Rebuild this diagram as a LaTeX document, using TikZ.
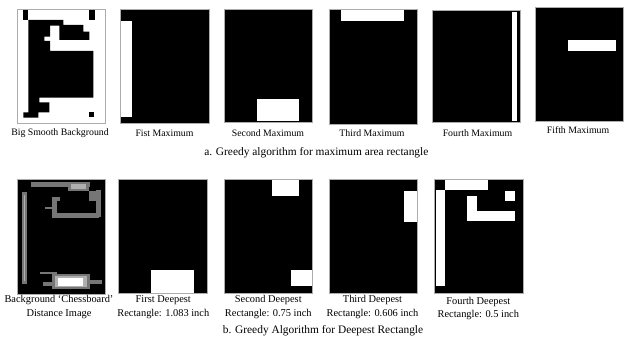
\documentclass[tikz,border=0pt]{standalone}
\usepackage{fontspec}
\setmainfont{Liberation Serif}
\begin{document}
\begin{tikzpicture}[x=1pt,y=-1pt,
  frame/.style={draw=gray!65, line width=0.8pt},
  blk/.style={fill=black},
  wht/.style={fill=white},
  gstrip/.style={fill={rgb,255:red,118;green,118;blue,118}},
  lstrip/.style={fill={rgb,255:red,175;green,175;blue,175}},
  lbl/.style={font=\fontsize{9.8}{11}\selectfont, inner sep=0pt},
  lbltwo/.style={font=\fontsize{10.4}{13.5}\selectfont, align=center, inner sep=0pt},
  captext/.style={font=\fontsize{11.4}{13}\selectfont, inner sep=0pt}]
\useasboundingbox (0,0) rectangle (624,339);

% ---------- Row a ----------
% Big Smooth Background
\fill[white] (17.3,9.7) rectangle (105.3,123);
\fill[blk] (23.3,9.7) rectangle (28.3,20);
\fill[blk] (89.3,9.7) rectangle (94.8,20);
\fill[blk] (28.3,20) -- (63.3,20) -- (63.3,25) -- (83.3,25) -- (83.3,31.7) -- (89.3,31.7)
  -- (89.3,40) -- (59.3,40) -- (59.3,25.7) -- (50,25.7) -- (50,36.7) -- (44.3,36.7)
  -- (44.3,41) -- (50,41) -- (50,51) -- (93.3,51) -- (93.3,97.7) -- (39.3,97.7)
  -- (39.3,102.3) -- (49.3,102.3) -- (49.3,112.3) -- (38.3,112.3) -- (38.3,117.7)
  -- (23.3,117.7) -- (23.3,112.3) -- (28.3,112.3) -- cycle;
\fill[blk] (89.3,112.3) rectangle (94,116.7);
\draw[frame] (17.3,9.7) rectangle (105.3,123);
\node[lbl] (l1) at (60,133.3) {Big Smooth Background};

% Fist Maximum
\fill[blk] (120,9.3) rectangle (209,123.3);
\fill[wht] (120.7,20.7) rectangle (131.7,116.7);
\draw[frame] (120,9.3) rectangle (209,123.3);
\node[lbl] (l2) at (164.5,133.3) {Fist Maximum};

% Second Maximum
\fill[blk] (224.3,9.3) rectangle (312.3,122.3);
\fill[wht] (256.7,99.3) rectangle (299,120.7);
\draw[frame] (224.3,9.3) rectangle (312.3,122.3);
\node[lbl] (l3) at (268,133.3) {Second Maximum};

% Third Maximum
\fill[blk] (329,9.3) rectangle (417.7,124);
\fill[wht] (340.7,10) rectangle (404,21);
\draw[frame] (329,9.3) rectangle (417.7,124);
\node[lbl] (l4) at (372,133.3) {Third Maximum};

% Fourth Maximum
\fill[blk] (432.3,10) rectangle (520.7,122.3);
\fill[wht] (512.3,11.7) rectangle (517.3,120.7);
\draw[frame] (432.3,10) rectangle (520.7,122.3);
\node[lbl] (l5) at (477.5,133.3) {Fourth Maximum};

% Fifth Maximum
\fill[blk] (535.7,7.3) rectangle (623.3,121.7);
\fill[wht] (568.3,40) rectangle (616,50.7);
\draw[frame] (535.7,7.3) rectangle (623.3,121.7);
\node[lbl] (l6) at (578,130.3) {Fifth Maximum};

\node[captext] (capa) at (316.3,152.5) {a. Greedy algorithm for maximum area rectangle};

% ---------- Row b ----------
% Chessboard distance image
\fill[blk] (17.3,179) rectangle (105.3,294);
\fill[gstrip] (21.7,192.3) rectangle (26.7,284);
\fill[lstrip] (23.6,195) rectangle (24.8,281);
\fill[gstrip] (30.5,182) rectangle (90,187);
\fill[gstrip] (68,182.5) rectangle (89.3,191.5);
\fill[lstrip] (71,184.5) rectangle (86,189.5);
\fill[gstrip] (89.3,191.5) rectangle (96,200.7);
\fill[gstrip] (95.5,190) rectangle (100.7,217.3);
\fill[gstrip] (51.7,196.7) rectangle (56.7,218);
\fill[gstrip] (51.7,196.7) rectangle (60,200.7);
\fill[gstrip] (51.7,213.3) rectangle (99.3,218);
\fill[gstrip] (45,207.3) rectangle (51.7,209);
\fill[gstrip] (40,271.7) rectangle (56.7,274);
\fill[gstrip] (51.7,274) rectangle (90,289);
\fill[lstrip] (55,276) rectangle (87,287);
\fill[white] (58.3,278) rectangle (83.3,285.7);
\fill[gstrip] (43.3,282.3) rectangle (52.7,285.7);
\fill[gstrip] (90,280) rectangle (101.7,284);
\draw[frame] (17.3,179) rectangle (105.3,294);
\node[lbltwo] (m1) at (59,307) {Background `Chessboard'\\Distance Image};

% First Deepest
\fill[blk] (118.3,179.3) rectangle (207.7,293.3);
\fill[wht] (151,270) rectangle (194.3,292.7);
\draw[frame] (118.3,179.3) rectangle (207.7,293.3);
\node[lbltwo] (m2) at (163.3,307) {First Deepest\\Rectangle: 1.083 inch};

% Second Deepest
\fill[blk] (224.3,179.3) rectangle (312.3,293.3);
\fill[wht] (272.3,180) rectangle (299,195.7);
\fill[wht] (291,270) rectangle (312.3,286);
\draw[frame] (224.3,179.3) rectangle (312.3,293.3);
\node[lbltwo] (m3) at (268.3,307) {Second Deepest\\Rectangle: 0.75 inch};

% Third Deepest
\fill[blk] (329,179.3) rectangle (417.7,293.3);
\fill[wht] (404.3,190.7) rectangle (417.7,222.3);
\draw[frame] (329,179.3) rectangle (417.7,293.3);
\node[lbltwo] (m4) at (372.5,307) {Third Deepest\\Rectangle: 0.606 inch};

% Fourth Deepest
\fill[blk] (434.7,179) rectangle (523,293.3);
\fill[wht] (445.3,180) rectangle (488,190);
\fill[wht] (436,190) rectangle (445.3,285.7);
\fill[wht] (467.3,195.7) rectangle (477.3,220.7);
\fill[wht] (467.3,210.7) rectangle (515.3,220.7);
\fill[wht] (504.7,190.7) rectangle (515.3,200.7);
\draw[frame] (434.7,179) rectangle (523,293.3);
\node[lbltwo] (m5) at (478.3,308.3) {Fourth Deepest\\Rectangle: 0.5 inch};

\node[captext] (capb) at (323,330.5) {b. Greedy Algorithm for Deepest Rectangle};
\end{tikzpicture}
\end{document}
